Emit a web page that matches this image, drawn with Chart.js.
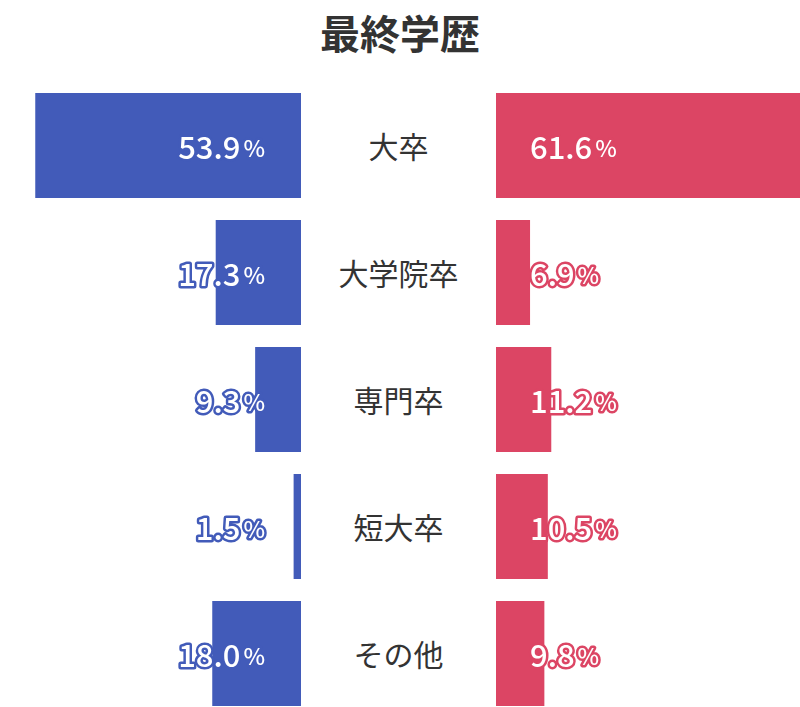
<!DOCTYPE html>
<html><head><meta charset="utf-8">
<script src="https://cdn.jsdelivr.net/npm/chart.js"></script>
<style>
body{margin:0;width:800px;height:707px;overflow:hidden;background:#fff;font-family:"Noto Sans CJK JP",sans-serif;position:relative}
#title{position:absolute;top:0;left:0;width:800px;text-align:center;font-size:40px;font-weight:bold;color:#333;line-height:64px}
.box{position:absolute;top:82px;height:635px}
#cats{position:absolute;left:301px;width:195px;top:82px}
#cats div{height:127px;line-height:127px;text-align:center;font-size:30px;color:#333}
</style></head><body>
<div id="title">最終学歴</div>
<div class="box" style="left:0;width:301px"><canvas id="l"></canvas></div>
<div id="cats"></div>
<div class="box" style="left:496px;width:304px"><canvas id="r"></canvas></div>
<script>
const categories=["大卒","大学院卒","専門卒","短大卒","その他"];
const leftValues=[53.9,17.3,9.3,1.5,18.0];
const rightValues=[61.6,6.9,11.2,10.5,9.8];
const leftColor="#425bb9", rightColor="#dc4564";
document.getElementById('cats').innerHTML=categories.map(c=>`<div>${c}</div>`).join('');
const labelPlugin={id:'lbl',afterDatasetsDraw(chart,args,opts){
  const ctx=chart.ctx;const meta=chart.getDatasetMeta(0);
  meta.data.forEach((el,i)=>{
    const v=chart.data.datasets[0].data[i].toFixed(1);
    ctx.save();ctx.textBaseline='middle';ctx.lineJoin='round';ctx.lineWidth=5;
    ctx.strokeStyle=opts.color;ctx.fillStyle='#fff';
    const f1='500 31px "Noto Sans CJK JP"',f2='500 23px "Noto Sans CJK JP"';
    ctx.font=f1;const w1=ctx.measureText(v).width;ctx.font=f2;const w2=ctx.measureText('%').width;
    const gap=3;
    let x0=opts.left? el.base-36-(w1+gap+w2) : el.base+34;
    const y=el.y+2;
    ctx.font=f1;ctx.textAlign='left';ctx.strokeText(v,x0,y);ctx.fillText(v,x0,y);
    ctx.font=f2;ctx.strokeText('%',x0+w1+gap,y+1);ctx.fillText('%',x0+w1+gap,y+1);
    ctx.restore();
  });
}};
function make(id,vals,color,max,left){
  new Chart(document.getElementById(id),{type:'bar',
    data:{labels:categories,datasets:[{data:vals,backgroundColor:color,barPercentage:0.827,categoryPercentage:1}]},
    options:{indexAxis:'y',responsive:true,maintainAspectRatio:false,animation:false,
      layout:{padding:0},
      plugins:{legend:{display:false},tooltip:{enabled:false},lbl:{color:color,left:left}},
      scales:{x:{display:false,min:0,max:max,reverse:left},y:{display:false}}},
    plugins:[labelPlugin]});
}
make('l',leftValues,leftColor,61.05,true);
make('r',rightValues,rightColor,61.6,false);
</script></body></html>
